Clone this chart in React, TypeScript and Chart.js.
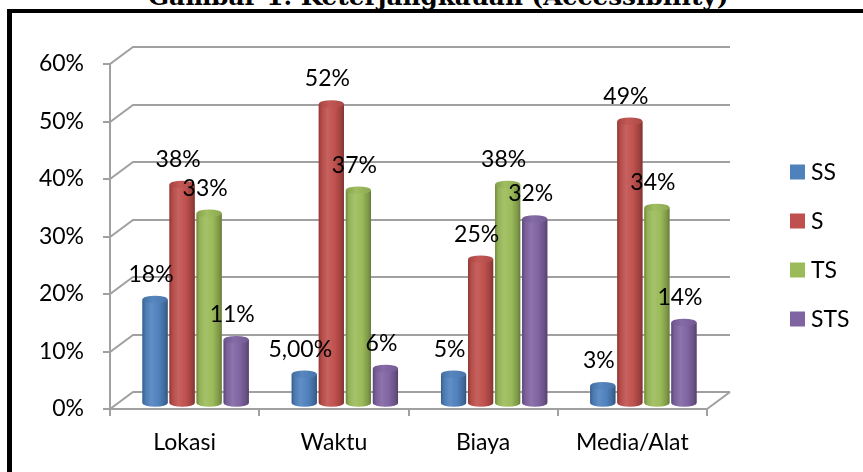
import React, { useEffect, useRef } from "react";
import { Chart, registerables } from "chart.js";

Chart.register(...registerables);

const titleText = "Gambar 1. Keterjangkauan (Accessibility)";
const categories = ["Lokasi", "Waktu", "Biaya", "Media/Alat"];
const seriesNames = ["SS", "S", "TS", "STS"];
const ssValues = [0.18, 0.05, 0.05, 0.03];
const sValues = [0.38, 0.52, 0.25, 0.49];
const tsValues = [0.33, 0.37, 0.38, 0.34];
const stsValues = [0.11, 0.06, 0.32, 0.14];
const ssLabels = ["18%", "5,00%", "5%", "3%"];
const sLabels = ["38%", "52%", "25%", "49%"];
const tsLabels = ["33%", "37%", "38%", "34%"];
const stsLabels = ["11%", "6%", "32%", "14%"];
const yTickLabels = ["0%", "10%", "20%", "30%", "40%", "50%", "60%"];
const seriesColors = ["#4F81BD", "#C0504D", "#9BBB59", "#8064A2"];

const DEPTH_X = 23;
const DEPTH_Y = 17;
const BAR_DX = 11;
const BAR_DY = -6;
const FONT = "Lato";
const TITLE_WIDTH = 580;

function shade(hex: string, f: number): string {
  const n = parseInt(hex.slice(1), 16);
  let r = (n >> 16) & 255, g = (n >> 8) & 255, b = n & 255;
  if (f <= 1) {
    r *= f; g *= f; b *= f;
  } else {
    const t = f - 1;
    r += (255 - r) * t; g += (255 - g) * t; b += (255 - b) * t;
  }
  return `rgb(${Math.round(r)},${Math.round(g)},${Math.round(b)})`;
}

const frame3d = {
  id: "frame3d",
  beforeDatasetsDraw(chart: any) {
    const { ctx, chartArea, scales } = chart;
    const { left, right, top, bottom } = chartArea;
    const y = scales.y;
    const x = scales.x;
    ctx.save();
    ctx.strokeStyle = "#A0A0A0";
    ctx.lineWidth = 2;
    ctx.lineCap = "butt";
    y.ticks.forEach((t: any) => {
      const py = Math.round(y.getPixelForValue(t.value));
      ctx.beginPath();
      ctx.moveTo(left - 7, py);
      ctx.lineTo(left, py);
      ctx.lineTo(left + DEPTH_X, py - DEPTH_Y);
      ctx.lineTo(right + DEPTH_X, py - DEPTH_Y);
      ctx.stroke();
    });
    ctx.beginPath();
    ctx.moveTo(left, top);
    ctx.lineTo(left, bottom);
    ctx.lineTo(right, bottom);
    ctx.lineTo(right + DEPTH_X, bottom - DEPTH_Y);
    ctx.stroke();
    const n = categories.length;
    for (let i = 0; i <= n; i++) {
      let px: number;
      if (i === 0) px = left;
      else if (i === n) px = right;
      else px = (x.getPixelForValue(i - 1) + x.getPixelForValue(i)) / 2;
      px = Math.round(px);
      ctx.beginPath();
      ctx.moveTo(px, bottom);
      ctx.lineTo(px, bottom + 7);
      ctx.stroke();
    }
    ctx.restore();
    ctx.save();
    ctx.translate(BAR_DX, BAR_DY);
  },
  afterDatasetsDraw(chart: any) {
    const { ctx } = chart;
    chart.data.datasets.forEach((ds: any, di: number) => {
      const meta = chart.getDatasetMeta(di);
      const c = ds.backgroundColor as string;
      meta.data.forEach((el: any) => {
        const { x, y, base, width } = el.getProps(["x", "y", "base", "width"], true);
        const w = width;
        const l = x - w / 2;
        const r = x + w / 2;
        const ry = w * 0.15;
        const g = ctx.createLinearGradient(l, 0, r, 0);
        g.addColorStop(0, shade(c, 0.72));
        g.addColorStop(0.12, shade(c, 0.95));
        g.addColorStop(0.35, shade(c, 1.1));
        g.addColorStop(0.65, c);
        g.addColorStop(0.9, shade(c, 0.8));
        g.addColorStop(1, shade(c, 0.65));
        ctx.fillStyle = g;
        ctx.beginPath();
        ctx.moveTo(l, y);
        ctx.lineTo(l, base);
        ctx.ellipse(x, base, w / 2, ry, 0, Math.PI, 0, true);
        ctx.lineTo(r, y);
        ctx.closePath();
        ctx.fill();
        const tg = ctx.createLinearGradient(l, 0, r, 0);
        tg.addColorStop(0, shade(c, 0.85));
        tg.addColorStop(0.4, shade(c, 1.05));
        tg.addColorStop(1, shade(c, 0.9));
        ctx.fillStyle = tg;
        ctx.beginPath();
        ctx.ellipse(x, y, w / 2, ry, 0, 0, Math.PI * 2);
        ctx.fill();
      });
    });
    ctx.fillStyle = "#000";
    ctx.font = `23px ${FONT}`;
    ctx.textAlign = "center";
    ctx.textBaseline = "middle";
    chart.data.datasets.forEach((ds: any, di: number) => {
      const meta = chart.getDatasetMeta(di);
      meta.data.forEach((el: any, i: number) => {
        const { x, y } = el.getProps(["x", "y"], true);
        ctx.fillText(ds.valueLabels[i], x - 4, y - 25);
      });
    });
    ctx.restore();
  },
  afterDraw(chart: any) {
    const { ctx } = chart;
    ctx.save();
    ctx.font = `23px ${FONT}`;
    ctx.textAlign = "left";
    ctx.textBaseline = "middle";
    chart.data.datasets.forEach((ds: any, i: number) => {
      const cy = 172 + i * 49;
      ctx.fillStyle = ds.backgroundColor;
      ctx.fillRect(790, cy - 7.5, 15, 15);
      ctx.fillStyle = "#000";
      ctx.fillText(ds.label, 811, cy + 1);
    });
    ctx.restore();
  },
};

export default function App() {
  const ref = useRef<HTMLCanvasElement | null>(null);
  const titleRef = useRef<HTMLDivElement | null>(null);
  useEffect(() => {
    if (titleRef.current) {
      const w = titleRef.current.offsetWidth;
      if (w > 0) titleRef.current.style.transform = `scaleX(${TITLE_WIDTH / w})`;
    }
    if (!ref.current) return;
    const values = [ssValues, sValues, tsValues, stsValues];
    const labels = [ssLabels, sLabels, tsLabels, stsLabels];
    const chart = new Chart(ref.current, {
      type: "bar",
      data: {
        labels: categories,
        datasets: seriesNames.map((name, i) => ({
          label: name,
          data: values[i],
          valueLabels: labels[i],
          backgroundColor: seriesColors[i],
          borderWidth: 0,
          categoryPercentage: 0.725,
          barPercentage: 0.93,
          clip: false as any,
        })) as any,
      },
      options: {
        animation: false,
        responsive: false,
        maintainAspectRatio: false,
        layout: { padding: { left: 0, right: 156, top: 64, bottom: 0 } },
        plugins: {
          legend: { display: false },
          tooltip: { enabled: false },
          title: { display: false },
        },
        scales: {
          x: {
            grid: { display: false, drawTicks: false },
            border: { display: false },
            ticks: {
              padding: 20,
              color: "#000",
              font: { family: FONT, size: 23 },
            },
            afterFit: (s: any) => {
              s.height = 63;
            },
          },
          y: {
            min: 0,
            max: 0.6,
            grid: { display: false, drawTicks: false },
            border: { display: false },
            ticks: {
              stepSize: 0.1,
              padding: 26,
              color: "#000",
              font: { family: FONT, size: 23 },
              callback: (_v: any, i: number) => yTickLabels[i],
            },
            afterFit: (s: any) => {
              s.width = 110;
            },
          },
        },
      },
      plugins: [frame3d],
    });
    return () => chart.destroy();
  }, []);

  return (
    <div style={{ position: "absolute", left: 0, top: 0, width: 863, height: 472, overflow: "hidden", background: "#fff" }}>
      <div
        style={{
          position: "absolute",
          left: 7,
          top: 9,
          width: 900,
          height: 500,
          borderLeft: "5px solid #000",
          borderTop: "4px solid #000",
          boxSizing: "border-box",
        }}
      />
      <div
        ref={titleRef}
        style={{
          position: "absolute",
          left: 148,
          top: -15,
          whiteSpace: "nowrap",
          transformOrigin: "0 0",
          fontFamily: "'DejaVu Serif', serif",
          fontWeight: "bold",
          fontSize: 24,
          lineHeight: "24px",
          color: "#000",
        }}
      >
        {titleText}
      </div>
      <canvas ref={ref} width={863} height={472} style={{ position: "absolute", left: 0, top: 0 }} />
    </div>
  );
}
